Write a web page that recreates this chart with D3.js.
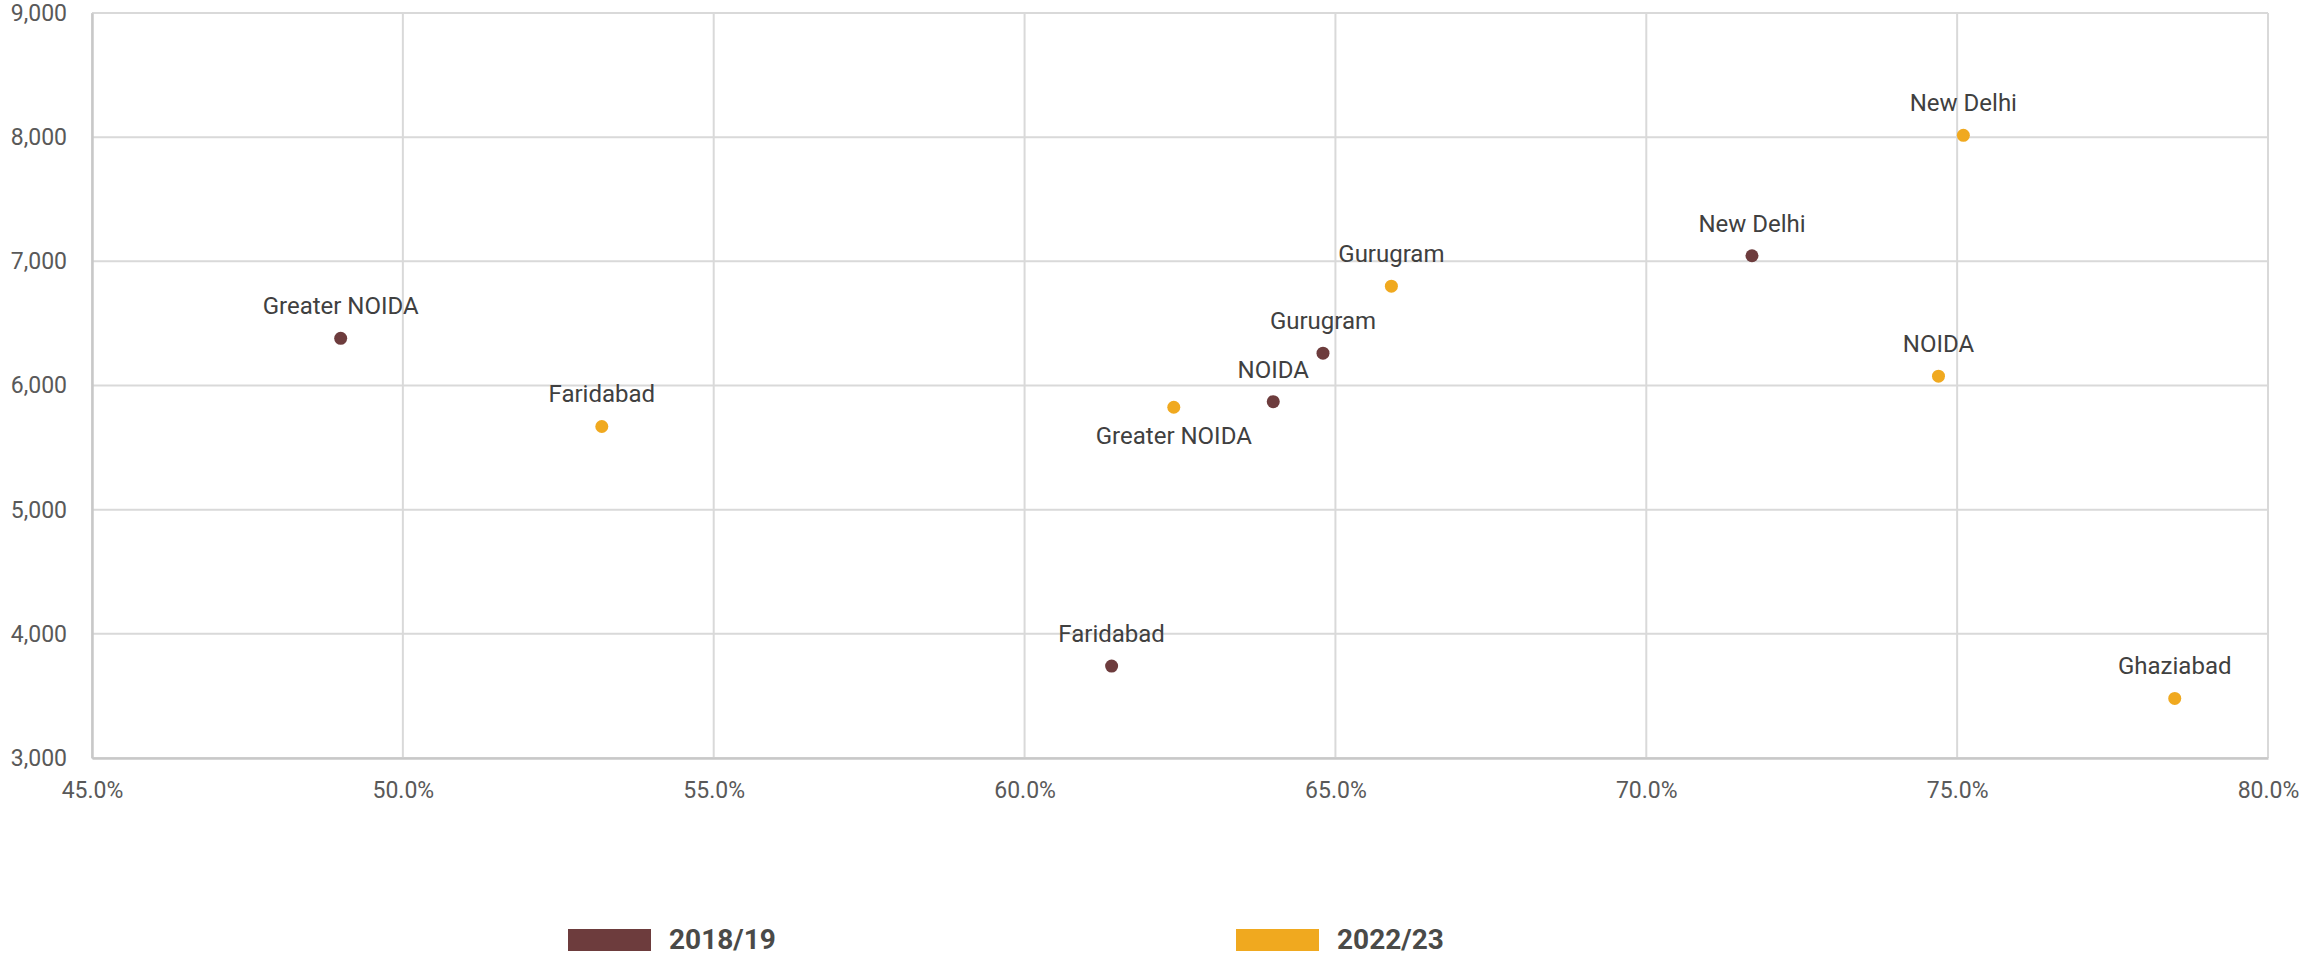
<!DOCTYPE html>
<html>
<head>
<meta charset="utf-8">
<script src="https://cdn.jsdelivr.net/npm/d3@7"></script>
<style>
    body { margin: 0; background: #fff; }
    svg { display: block; font-family: Roboto, "Noto Sans", sans-serif; }
</style>
</head>
<body>
<div id="chart"></div>
<script>
// data
let series = ["2018/19", "2022/23"];
let colors = ["#6d3c3d", "#f0a91f"];

let cities2018 = ["Greater NOIDA", "Faridabad", "NOIDA", "Gurugram", "New Delhi"];
let share2018 = [49.0, 61.4, 64.0, 64.8, 71.7];
let value2018 = [6380, 3740, 5870, 6260, 7045];
let below2018 = [false, false, false, false, false];

let cities2022 = ["Faridabad", "Greater NOIDA", "Gurugram", "New Delhi", "NOIDA", "Ghaziabad"];
let share2022 = [53.2, 62.4, 65.9, 75.1, 74.7, 78.5];
let value2022 = [5670, 5825, 6800, 8015, 6075, 3480];
let below2022 = [false, true, false, false, false, false];

let xTicks = [45, 50, 55, 60, 65, 70, 75, 80];
let yTicks = [3000, 4000, 5000, 6000, 7000, 8000, 9000];

// chart size
let w = 2305;
let h = 958;
let plotLeft = 92, plotRight = 2268, plotTop = 13, plotBottom = 758;

let viz = d3.select("#chart")
    .append("svg")
    .attr("width", w)
    .attr("height", h);

let xScale = d3.scaleLinear()
    .domain([45, 80])
    .range([plotLeft, plotRight]);

let yScale = d3.scaleLinear()
    .domain([3000, 9000])
    .range([plotBottom, plotTop]);

// grid lines
viz.append("g")
    .selectAll("line")
    .data(xTicks)
    .enter()
    .append("line")
    .attr("x1", function (d) { return xScale(d); })
    .attr("x2", function (d) { return xScale(d); })
    .attr("y1", plotTop)
    .attr("y2", plotBottom)
    .attr("stroke", "#d9d9d9")
    .attr("stroke-width", 2);

viz.append("g")
    .selectAll("line")
    .data(yTicks)
    .enter()
    .append("line")
    .attr("x1", plotLeft)
    .attr("x2", plotRight)
    .attr("y1", function (d) { return yScale(d); })
    .attr("y2", function (d) { return yScale(d); })
    .attr("stroke", "#d9d9d9")
    .attr("stroke-width", 2);

// axes
let xAxis = d3.axisBottom(xScale)
    .tickValues(xTicks)
    .tickSize(0)
    .tickPadding(24)
    .tickFormat(function (d) { return d.toFixed(1) + "%"; });
let xAxisGroup = viz.append("g")
    .attr("transform", "translate(0," + plotBottom + ")")
    .call(xAxis);
xAxisGroup.select(".domain").attr("stroke", "#c8c8c8").attr("stroke-width", 2.5);

let yAxis = d3.axisLeft(yScale)
    .tickValues(yTicks)
    .tickSize(0)
    .tickPadding(25)
    .tickFormat(d3.format(","));
let yAxisGroup = viz.append("g")
    .attr("transform", "translate(" + plotLeft + ",0)")
    .call(yAxis);
yAxisGroup.select(".domain").attr("stroke", "#c8c8c8").attr("stroke-width", 2.5);

viz.selectAll(".tick text")
    .attr("font-size", 23)
    .attr("font-family", "Roboto, sans-serif")
    .attr("fill", "#595959");

// points and labels
function drawSeries(names, xs, ys, below, color) {
    let pts = names.map(function (n, i) {
        return { name: n, x: xs[i], y: ys[i], below: below[i] };
    });
    let g = viz.append("g");
    g.selectAll("circle")
        .data(pts)
        .enter()
        .append("circle")
        .attr("cx", function (d) { return xScale(d.x); })
        .attr("cy", function (d) { return yScale(d.y); })
        .attr("r", 6.5)
        .attr("fill", color);
    g.selectAll("text")
        .data(pts)
        .enter()
        .append("text")
        .attr("x", function (d) { return xScale(d.x); })
        .attr("y", function (d) { return yScale(d.y) + (d.below ? 37 : -24); })
        .attr("text-anchor", "middle")
        .attr("font-size", 24)
        .attr("fill", "#404040")
        .text(function (d) { return d.name; });
}

drawSeries(cities2018, share2018, value2018, below2018, colors[0]);
drawSeries(cities2022, share2022, value2022, below2022, colors[1]);

// legend
let legendX = [568, 1236];
let legend = viz.append("g")
    .selectAll("g")
    .data(series)
    .enter()
    .append("g")
    .attr("transform", function (d, i) { return "translate(" + legendX[i] + ",929)"; });
legend.append("rect")
    .attr("width", 83)
    .attr("height", 22)
    .attr("fill", function (d, i) { return colors[i]; });
legend.append("text")
    .attr("x", 101)
    .attr("y", 20)
    .attr("font-size", 28)
    .attr("font-weight", "bold")
    .attr("fill", "#4a4a48")
    .text(function (d) { return d; });
</script>
</body>
</html>
